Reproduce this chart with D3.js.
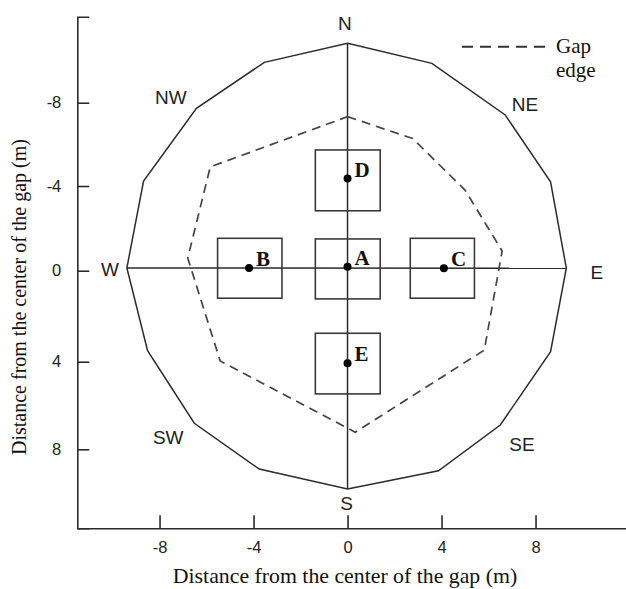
<!DOCTYPE html>
<html>
<head>
<meta charset="utf-8">
<script src="https://cdn.jsdelivr.net/npm/d3@7"></script>
<style>
  html, body { margin: 0; padding: 0; background: #fff; }
  svg { display: block; }
</style>
</head>
<body>
<svg id="chart" width="626" height="589"></svg>
<script>
// ---- data (metres) ----
const xTicks = [-8, -4, 0, 4, 8];
const yTicks = [-8, -4, 0, 4, 8];

// outer (solid) boundary, clockwise from N
const outerBoundary = [
  [0, -10.9], [3.59, -9.92], [6.71, -7.41], [8.64, -4.2], [9.31, -0.12],
  [8.64, 3.56], [6.5, 6.89], [3.87, 8.98], [0, 9.81], [-3.76, 8.9],
  [-6.52, 6.81], [-8.51, 3.52], [-9.39, -0.13], [-8.68, -4.24],
  [-6.43, -7.73], [-3.54, -9.97]
];

// gap edge (dashed), clockwise from top
const gapEdge = [
  [0, -7.33], [2.77, -6.28], [5.0, -3.81], [6.58, -0.93], [5.82, 3.49],
  [0.33, 7.22], [-5.42, 3.97], [-6.8, -0.6], [-5.84, -4.92]
];

const plotNames = ["A", "B", "C", "D", "E"];
const plotPointX = [0, -4.19, 4.1, 0, 0];
const plotPointY = [-0.19, -0.13, -0.11, -4.36, 4.07];
const plotBoxX0 = [-1.37, -5.53, 2.67, -1.37, -1.37];
const plotBoxX1 = [1.39, -2.79, 5.4, 1.39, 1.39];
const plotBoxY0 = [-1.5, -1.53, -1.53, -5.73, 2.75];
const plotBoxY1 = [1.24, 1.21, 1.21, -2.83, 5.47];

const compassNames = ["N", "NE", "E", "SE", "S", "SW", "W", "NW"];
const compassX = [-0.11, 7.55, 10.61, 7.42, -0.04, -7.63, -10.11, -7.52];
const compassY = [-11.89, -7.91, 0.10, 7.8, 10.49, 7.48, -0.08, -8.25];

const xTitle = "Distance from the center of the gap (m)";
const yTitle = "Distance from the center of the gap (m)";
const legendLines = ["Gap", "edge"];

// ---- scales ----
const svg = d3.select("#chart");
const x = d3.scaleLinear().domain([-11.5, 11.85]).range([77.3, 626]);
const y = d3.scaleLinear()
  .domain([-12.2, -8, -4, 0, 4, 8, 11.6])
  .range([16.7, 102.7, 186, 270.7, 361.7, 449.3, 528.3]);

const ink = "#2b2b2b";
const fmt = d => String(d);

// ---- axes ----
const gy = svg.append("g").attr("transform", `translate(${x(-11.5)},0)`)
  .call(d3.axisLeft(y).tickValues(yTicks).tickFormat(fmt)
    .tickSize(-12).tickSizeOuter(-12).tickPadding(16));
const gx = svg.append("g").attr("transform", `translate(0,${y(11.6)})`)
  .call(d3.axisBottom(x).tickValues(xTicks).tickFormat(fmt)
    .tickSize(-13).tickSizeOuter(0).tickPadding(13));
[gx, gy].forEach(g => {
  g.select(".domain").attr("stroke", ink).attr("stroke-width", 1.6);
  g.selectAll(".tick line").attr("stroke", ink).attr("stroke-width", 1.6);
  g.selectAll(".tick text").attr("fill", "#222")
    .style("font-family", "'Liberation Sans', Arial, sans-serif").style("font-size", "16.5px");
});

// ---- outer boundary ----
const line = d3.line().x(d => x(d[0])).y(d => y(d[1])).curve(d3.curveLinearClosed);
svg.append("path").attr("d", line(outerBoundary))
  .attr("fill", "none").attr("stroke", ink).attr("stroke-width", 1.5);

// ---- cross lines N-S and W-E ----
const nIdx = 0, eIdx = 4, sIdx = 8, wIdx = 12;
svg.append("line")
  .attr("x1", x(outerBoundary[nIdx][0])).attr("y1", y(outerBoundary[nIdx][1]))
  .attr("x2", x(outerBoundary[sIdx][0])).attr("y2", y(outerBoundary[sIdx][1]))
  .attr("stroke", ink).attr("stroke-width", 1.5);
svg.append("line")
  .attr("x1", x(outerBoundary[wIdx][0])).attr("y1", y(outerBoundary[wIdx][1]))
  .attr("x2", x(outerBoundary[eIdx][0])).attr("y2", y(outerBoundary[eIdx][1]))
  .attr("stroke", ink).attr("stroke-width", 1.5);

// ---- gap edge ----
svg.append("path").attr("d", line(gapEdge))
  .attr("fill", "none").attr("stroke", "#444").attr("stroke-width", 1.7)
  .attr("stroke-dasharray", "9,6");

// ---- plots ----
const plots = plotNames.map((n, i) => ({
  n, px: plotPointX[i], py: plotPointY[i],
  x0: plotBoxX0[i], x1: plotBoxX1[i], y0: plotBoxY0[i], y1: plotBoxY1[i]
}));
svg.append("g").selectAll("rect").data(plots).join("rect")
  .attr("x", d => x(d.x0)).attr("y", d => y(d.y0))
  .attr("width", d => x(d.x1) - x(d.x0)).attr("height", d => y(d.y1) - y(d.y0))
  .attr("fill", "none").attr("stroke", "#3a3a3a").attr("stroke-width", 1.6);
svg.append("g").selectAll("circle").data(plots).join("circle")
  .attr("cx", d => x(d.px)).attr("cy", d => y(d.py)).attr("r", 4)
  .attr("fill", "#000");
svg.append("g").selectAll("text").data(plots).join("text")
  .attr("x", d => x(d.px) + 7).attr("y", d => y(d.py) - 2)
  .text(d => d.n)
  .style("font-family", "'Liberation Serif', 'Times New Roman', serif")
  .style("font-weight", "bold").style("font-size", "21px").attr("fill", "#111");

// ---- compass labels ----
svg.append("g").selectAll("text").data(compassNames).join("text")
  .attr("x", (d, i) => x(compassX[i])).attr("y", (d, i) => y(compassY[i]))
  .attr("text-anchor", "middle").attr("dominant-baseline", "central")
  .text(d => d)
  .style("font-family", "'Liberation Sans', Arial, sans-serif")
  .style("font-size", "19px").attr("fill", "#222");

// ---- legend ----
svg.append("line").attr("x1", 462).attr("x2", 547).attr("y1", 46.7).attr("y2", 46.7)
  .attr("stroke", "#333").attr("stroke-width", 2).attr("stroke-dasharray", "11,7");
svg.append("g").selectAll("text").data(legendLines).join("text")
  .attr("x", 556).attr("y", (d, i) => 53 + i * 24)
  .text(d => d)
  .style("font-family", "'Liberation Serif', 'Times New Roman', serif")
  .style("font-size", "21px").attr("fill", "#111");

// ---- axis titles ----
svg.append("text").attr("x", 345).attr("y", 583).attr("text-anchor", "middle")
  .text(xTitle)
  .style("font-family", "'Liberation Serif', 'Times New Roman', serif")
  .style("font-size", "21.8px").attr("fill", "#111");
svg.append("text").attr("transform", "translate(26,297) rotate(-90)")
  .attr("text-anchor", "middle").text(yTitle)
  .style("font-family", "'Liberation Serif', 'Times New Roman', serif")
  .style("font-size", "20px").attr("fill", "#111");
</script>
</body>
</html>
